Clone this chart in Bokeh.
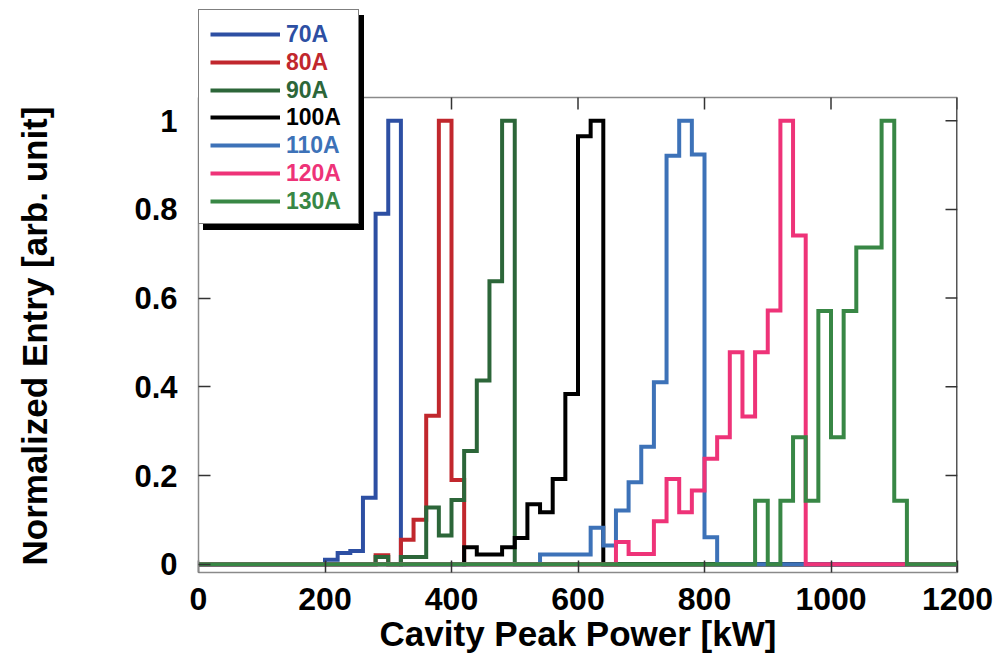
import numpy as np
from bokeh.plotting import figure
from bokeh.models import (Range1d, FixedTicker, CustomJSTickFormatter, Legend, LegendItem,
                          Title)
from bokeh.embed import file_html
from bokeh.resources import INLINE

# ---- data -----------------------------------------------------------------
BIN_WIDTH = 20            # histogram bin width [kW]
X_MIN, X_MAX = 0, 1200    # histogram range [kW]

currents = ["70A", "80A", "90A", "100A", "110A", "120A", "130A"]
colors = ["#2D4FA3", "#C1272D", "#2C6639", "#000000", "#3D72B8", "#EE3378", "#388745"]

# lower edge of the first filled bin, and normalized entries per bin
first_bin_70A = 200
entries_70A = [0.01, 0.025, 0.03, 0.15, 0.79, 1.0]

first_bin_80A = 280
entries_80A = [0.02, 0.0, 0.055, 0.10, 0.335, 1.0, 0.19]

first_bin_90A = 280
entries_90A = [0.016, 0.0, 0.016, 0.016, 0.128, 0.065, 0.145, 0.255, 0.414, 0.638, 1.0]

first_bin_100A = 420
entries_100A = [0.038, 0.022, 0.022, 0.038, 0.059, 0.135, 0.117, 0.192, 0.384, 0.965, 1.0]

first_bin_110A = 540
entries_110A = [0.022, 0.022, 0.022, 0.022, 0.082, 0.042, 0.121, 0.185, 0.265, 0.41,
                0.921, 1.0, 0.924, 0.061]

first_bin_120A = 660
entries_120A = [0.05, 0.023, 0.023, 0.097, 0.192, 0.117, 0.166, 0.238, 0.286, 0.478,
                0.333, 0.478, 0.572, 1.0, 0.741]

first_bin_130A = 880
entries_130A = [0.143, 0.0, 0.143, 0.286, 0.143, 0.571, 0.286, 0.571, 0.714, 0.714,
                1.0, 0.143]

x_ticks = [0, 200, 400, 600, 800, 1000, 1200]
y_ticks = [0, 0.2, 0.4, 0.6, 0.8, 1.0]

series = [
    (first_bin_70A, entries_70A),
    (first_bin_80A, entries_80A),
    (first_bin_90A, entries_90A),
    (first_bin_100A, entries_100A),
    (first_bin_110A, entries_110A),
    (first_bin_120A, entries_120A),
    (first_bin_130A, entries_130A),
]


def step_outline(first_bin, entries):
    """Full-range histogram outline (zeros outside the filled bins)."""
    edges = np.arange(X_MIN, X_MAX + BIN_WIDTH, BIN_WIDTH)
    counts = np.zeros(len(edges) - 1)
    i0 = (first_bin - X_MIN) // BIN_WIDTH
    counts[i0:i0 + len(entries)] = entries
    xs = np.repeat(edges, 2)[1:-1]
    ys = np.repeat(counts, 2)
    return xs, ys


# ---- figure ---------------------------------------------------------------
# The drawing area reaches up to the canvas top so that the legend, which
# rises above the plotted box, is not clipped; the box's top and right edges
# are drawn as glyphs.
FONT = "Liberation Sans"
FRAME_LEFT, FRAME_TOP, FRAME_BOTTOM = 198, 8, 572
Y_LOW = -0.0187                      # value at the bottom edge of the box
PX_PER_UNIT = 443.5                  # vertical scale [px per unit entry]
Y_BOX_TOP = Y_LOW + (FRAME_BOTTOM - 97) / PX_PER_UNIT
Y_HIGH = Y_LOW + (FRAME_BOTTOM - FRAME_TOP) / PX_PER_UNIT
FRAME_COLOR = "#8A8A8A"
TICK_COLOR = "#333333"
TICK_LEN = 12

p = figure(width=1005, height=656, output_backend="svg", toolbar_location=None,
           x_range=Range1d(X_MIN, X_MAX), y_range=Range1d(Y_LOW, Y_HIGH),
           min_border_left=FRAME_LEFT, min_border_right=48,
           min_border_top=FRAME_TOP, min_border_bottom=656 - FRAME_BOTTOM,
           x_axis_label="Cavity Peak Power [kW]")
p.grid.visible = False
p.outline_line_color = None
p.background_fill_color = "white"
p.border_fill_color = "white"

xax = p.xaxis[0]
yax = p.yaxis[0]
xax.ticker = FixedTicker(ticks=x_ticks)
yax.ticker = FixedTicker(ticks=y_ticks)
yax.bounds = (Y_LOW, Y_BOX_TOP)
yax.formatter = CustomJSTickFormatter(code="return String(Math.round(tick * 10) / 10)")

for ax in (xax, yax):
    ax.major_tick_in = TICK_LEN
    ax.major_tick_out = 0
    ax.minor_tick_line_color = None
    ax.axis_line_color = FRAME_COLOR
    ax.axis_line_width = 1.5
    ax.major_tick_line_color = TICK_COLOR
    ax.major_tick_line_width = 1.5
    ax.major_label_text_font = FONT
    ax.major_label_text_font_style = "bold"
    ax.major_label_text_color = "black"

xax.axis_label_text_font = FONT
xax.axis_label_text_font_style = "bold"
xax.axis_label_text_color = "black"
xax.axis_label_text_font_size = "35px"
xax.major_label_text_font_size = "32px"
xax.major_label_standoff = 15
xax.axis_label_standoff = 1

yax.major_label_text_font_size = "31px"
yax.major_label_standoff = 21
# blank label only reserves the gap between tick labels and the axis title
yax.axis_label = " "
yax.axis_label_text_font_size = "1px"
yax.axis_label_standoff = 74

# vertical axis title, placed along the plotted box rather than the whole frame
y_title = Title(text="Normalized Entry [arb. unit]", align="left", offset=7,
                standoff=0, text_font=FONT, text_font_style="bold",
                text_font_size="35px", text_color="black")
p.add_layout(y_title, "left")

# top and right edges of the box, with inward ticks
x_px = (X_MAX - X_MIN) / (1005 - FRAME_LEFT - 48)   # kW per pixel
p.segment(x0=[X_MIN], y0=[Y_BOX_TOP], x1=[X_MAX], y1=[Y_BOX_TOP],
          line_color=FRAME_COLOR, line_width=1.5)
p.segment(x0=[X_MAX], y0=[Y_LOW], x1=[X_MAX], y1=[Y_BOX_TOP],
          line_color="#555555", line_width=3)
p.segment(x0=x_ticks, y0=[Y_BOX_TOP] * len(x_ticks),
          x1=x_ticks, y1=[Y_BOX_TOP - TICK_LEN / PX_PER_UNIT] * len(x_ticks),
          line_color=TICK_COLOR, line_width=1.5)
p.segment(x0=[X_MAX - TICK_LEN * x_px] * len(y_ticks), y0=y_ticks,
          x1=[X_MAX] * len(y_ticks), y1=y_ticks,
          line_color=TICK_COLOR, line_width=1.5)

renderers = []
for (first_bin, entries), color in zip(series, colors):
    xs, ys = step_outline(first_bin, entries)
    r = p.line(xs, ys, line_color=color, line_width=4, line_join="miter")
    renderers.append(r)

# ---- legend: shadow, framed box, then one row per current -----------------
BOX_W, BOX_H = 159, 213
BOX_X, BOX_Y = 0, FRAME_BOTTOM - 224


def box_legend(fill, dx, dy):
    blank = p.line([], [], line_alpha=0)
    return Legend(items=[LegendItem(label=" ", renderers=[blank])],
                  location=(BOX_X + dx, BOX_Y + dy), padding=0, margin=0, spacing=0,
                  glyph_width=BOX_W, glyph_height=BOX_H, label_width=0, label_height=0,
                  label_standoff=0, label_text_font_size="1px",
                  background_fill_color=fill, background_fill_alpha=1,
                  border_line_color="black", border_line_width=1.5)


p.add_layout(box_legend("black", 5, -6), "center")
p.add_layout(box_legend("white", 0, 0), "center")

ROW_H = 30
for i, (r, label, color) in enumerate(zip(renderers, currents, colors)):
    row_center = 34 + 27.8 * i
    lg = Legend(items=[LegendItem(label=label, renderers=[r])],
                location=(12, int(round(FRAME_BOTTOM - row_center - ROW_H / 2))),
                padding=0, margin=0, spacing=0,
                glyph_width=70, glyph_height=ROW_H, label_height=ROW_H,
                label_standoff=6, label_text_font=FONT, label_text_font_style="bold",
                label_text_font_size="23px", label_text_color=color,
                background_fill_alpha=0, border_line_alpha=0)
    p.add_layout(lg, "center")

open("out.html", "w").write(file_html(p, INLINE))
